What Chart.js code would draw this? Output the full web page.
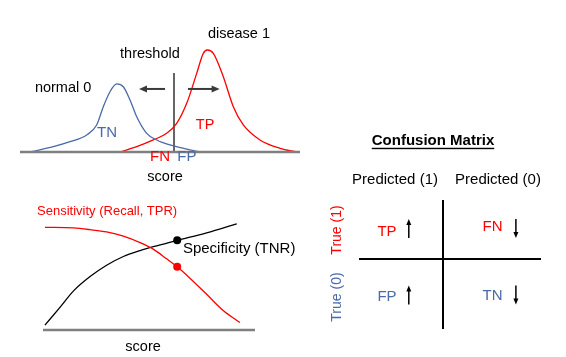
<!DOCTYPE html>
<html><head><meta charset="utf-8">
<script src="https://cdn.jsdelivr.net/npm/chart.js@4"></script>
<style>
html,body{margin:0;padding:0;background:#fff;width:566px;height:357px;overflow:hidden}
.box{position:absolute}
</style></head><body>
<div class="box" style="left:0;top:0;width:310px;height:190px"><canvas id="cA"></canvas></div>
<div class="box" style="left:0;top:190px;width:310px;height:167px"><canvas id="cB"></canvas></div>
<div class="box" style="left:310px;top:120px;width:256px;height:237px"><canvas id="cC"></canvas></div>
<script>
// ---------- Panel A: score distributions ----------
const normalScore   = [0.357, 1.19, 1.786, 2.382, 2.739, 2.975, 3.214, 3.454, 3.689, 3.929, 4.168, 4.525, 4.882, 5.357, 6.429];
const normalDensity = [0, 0.052, 0.101, 0.167, 0.265, 0.444, 0.591, 0.667, 0.640, 0.510, 0.346, 0.183, 0.118, 0.069, 0];
const diseaseScore   = [3.571, 4.168, 4.761, 5.239, 5.596, 5.954, 6.311, 6.546, 6.689, 6.904, 7.261, 7.618, 7.975, 8.571, 9.286, 9.882];
const diseaseDensity = [0, 0.052, 0.118, 0.183, 0.281, 0.477, 0.771, 0.967, 1.0, 0.967, 0.738, 0.444, 0.265, 0.118, 0.036, 0];
const scoreRange = [0, 10];
const thresholdScore = 5.5;
const thresholdHeight = 0.775;

// ---------- Panel B: rates vs score ----------
const sensScore    = [0.009, 0.143, 0.222, 0.300, 0.379, 0.458, 0.520, 0.583, 0.633, 0.693, 0.772, 0.850, 0.929];
const sensitivity  = [0.961, 0.955, 0.939, 0.918, 0.879, 0.818, 0.757, 0.666, 0.591, 0.485, 0.334, 0.182, 0.070];
const specScore    = [0.009, 0.080, 0.143, 0.222, 0.300, 0.379, 0.458, 0.536, 0.633, 0.772, 0.914];
const specificity  = [0.045, 0.212, 0.364, 0.500, 0.606, 0.688, 0.743, 0.788, 0.839, 0.909, 0.994];
const markScore = 0.633;
const markSens = 0.591;
const markSpec = 0.839;

// ---------- Panel C: confusion matrix ----------
const predictedLabels = ['Predicted (1)', 'Predicted (0)'];
const trueLabels = ['True (1)', 'True (0)'];
const cellLabels = [['TP', 'FN'], ['FP', 'TN']];
const cellTrend = [['up', 'down'], ['up', 'down']];

const RED = '#ff0000', BLUE = '#4a6aa8', FONT = '"Liberation Sans", Arial, sans-serif';

function pts(xs, ys) { return xs.map((x, i) => ({x, y: ys[i]})); }

function arrow(ctx, x1, y1, x2, y2, color, lw, hl, hw) {
  const a = Math.atan2(y2 - y1, x2 - x1);
  ctx.save();
  ctx.strokeStyle = color; ctx.fillStyle = color; ctx.lineWidth = lw;
  ctx.beginPath(); ctx.moveTo(x1, y1);
  ctx.lineTo(x2 - Math.cos(a) * hl * 0.8, y2 - Math.sin(a) * hl * 0.8); ctx.stroke();
  ctx.beginPath(); ctx.moveTo(x2, y2);
  ctx.lineTo(x2 - Math.cos(a) * hl - Math.sin(a) * hw / 2, y2 - Math.sin(a) * hl + Math.cos(a) * hw / 2);
  ctx.lineTo(x2 - Math.cos(a) * hl + Math.sin(a) * hw / 2, y2 - Math.sin(a) * hl - Math.cos(a) * hw / 2);
  ctx.closePath(); ctx.fill();
  ctx.restore();
}

// annotation plugin: texts and arrows placed in data units
const annot = {
  id: 'annot',
  afterDatasetsDraw(chart, args, opts) {
    const ctx = chart.ctx, xs = chart.scales.x, ys = chart.scales.y;
    (opts.arrows || []).forEach(a => {
      arrow(ctx, xs.getPixelForValue(a.from[0]), ys.getPixelForValue(a.from[1]),
            xs.getPixelForValue(a.to[0]), ys.getPixelForValue(a.to[1]), a.color, a.lw, a.hl, a.hw);
    });
    (opts.texts || []).forEach(t => {
      ctx.save();
      ctx.font = (t.bold ? 'bold ' : '') + t.size + 'px ' + FONT;
      ctx.fillStyle = t.color;
      ctx.textAlign = t.align || 'center';
      ctx.textBaseline = 'middle';
      const px = xs.getPixelForValue(t.x), py = ys.getPixelForValue(t.y);
      ctx.translate(px, py);
      if (t.rotate) ctx.rotate(t.rotate);
      ctx.fillText(t.text, 0, 0);
      if (t.underline) {
        const w = ctx.measureText(t.text).width;
        ctx.fillRect(-w / 2, t.size * 0.45, w, 1.4);
      }
      ctx.restore();
    });
  }
};

function hidden(min, max) {
  return { type: 'linear', min, max, display: false };
}
const baseOpts = (padding, xr, yr, plug) => ({
  responsive: true, maintainAspectRatio: false, animation: false,
  layout: { padding },
  scales: { x: hidden(xr[0], xr[1]), y: hidden(yr[0], yr[1]) },
  plugins: { legend: { display: false }, tooltip: { enabled: false }, annot: plug },
  elements: { point: { radius: 0 } }
});

// Panel A
new Chart(document.getElementById('cA'), {
  type: 'scatter',
  plugins: [annot],
  data: { datasets: [
    { data: pts(scoreRange, [0, 0]), showLine: true, borderColor: '#7f7f7f', borderWidth: 2.5, clip: false },
    { data: pts(normalScore, normalDensity), showLine: true, borderColor: BLUE, borderWidth: 1.3, cubicInterpolationMode: 'monotone', clip: false },
    { data: pts(diseaseScore, diseaseDensity), showLine: true, borderColor: RED, borderWidth: 1.3, cubicInterpolationMode: 'monotone', clip: false },
    { data: pts([thresholdScore, thresholdScore], [0, thresholdHeight]), showLine: true, borderColor: '#555555', borderWidth: 1.8, clip: false }
  ]},
  options: baseOpts({left: 20, right: 10, top: 0, bottom: 38}, scoreRange, [0, 1.49], {
    arrows: [
      {from: [5.18, 0.618], to: [4.25, 0.618], color: '#3a3a3a', lw: 2, hl: 8, hw: 7},
      {from: [6.0, 0.618], to: [7.13, 0.618], color: '#3a3a3a', lw: 2, hl: 8, hw: 7}
    ],
    texts: [
      {text: 'disease 1', x: 7.82, y: 1.157, color: '#000', size: 14.5},
      {text: 'threshold', x: 4.64, y: 0.96, color: '#000', size: 14.5},
      {text: 'normal 0', x: 1.54, y: 0.627, color: '#000', size: 14.5},
      {text: 'TN', x: 3.11, y: 0.186, color: BLUE, size: 15},
      {text: 'TP', x: 6.61, y: 0.265, color: RED, size: 14.5},
      {text: 'FN', x: 5.0, y: -0.049, color: RED, size: 15},
      {text: 'FP', x: 5.96, y: -0.049, color: BLUE, size: 15},
      {text: 'score', x: 5.18, y: -0.245, color: '#000', size: 14.5}
    ]
  })
});

// Panel B
new Chart(document.getElementById('cB'), {
  type: 'scatter',
  plugins: [annot],
  data: { datasets: [
    { data: pts([0, 1], [0, 0]), showLine: true, borderColor: '#7f7f7f', borderWidth: 2.5, clip: false },
    { data: pts(sensScore, sensitivity), showLine: true, borderColor: RED, borderWidth: 1.3, cubicInterpolationMode: 'monotone', clip: false },
    { data: pts(specScore, specificity), showLine: true, borderColor: '#000', borderWidth: 1.3, cubicInterpolationMode: 'monotone', clip: false },
    { data: pts([markScore], [markSens]), pointRadius: 4, backgroundColor: RED, borderWidth: 0, clip: false },
    { data: pts([markScore], [markSpec]), pointRadius: 4, backgroundColor: '#000', borderWidth: 0, clip: false }
  ]},
  options: baseOpts({left: 43, right: 55, top: 0, bottom: 27}, [0, 1], [0, 1.273], {
    texts: [
      {text: 'Sensitivity (Recall, TPR)', x: -0.028, y: 1.109, color: RED, size: 13, align: 'left'},
      {text: 'Specificity (TNR)', x: 0.66, y: 0.755, color: '#000', size: 15, align: 'left'},
      {text: 'score', x: 0.472, y: -0.155, color: '#000', size: 14.5}
    ]
  })
});

// Panel C
const cellX = [0.378, 1.55];
const cellY = [1.415, 0.42];
const cellYRight = [1.488, 0.435];
const arrowX = [0.62, 1.81];
const arrowY = [1.469, 0.446];
const cTexts = [
  {text: 'Confusion Matrix', x: 0.889, y: 2.815, color: '#000', size: 15, bold: true, underline: true},
  {text: predictedLabels[0], x: 0.467, y: 2.215, color: '#000', size: 15},
  {text: predictedLabels[1], x: 1.611, y: 2.215, color: '#000', size: 15},
  {text: trueLabels[0], x: -0.178, y: 1.446, color: RED, size: 14, rotate: -Math.PI / 2},
  {text: trueLabels[1], x: -0.178, y: 0.415, color: BLUE, size: 14, rotate: -Math.PI / 2}
];
const cArrows = [];
cellLabels.forEach((row, r) => row.forEach((lab, c) => {
  cTexts.push({text: lab, x: cellX[c], y: c === 0 ? cellY[r] : cellYRight[r], color: r === 0 ? RED : BLUE, size: 15});
  const yc = arrowY[r];
  const up = cellTrend[r][c] === 'up';
  cArrows.push({from: [arrowX[c], up ? yc - 0.146 : yc + 0.146], to: [arrowX[c], up ? yc + 0.146 : yc - 0.146],
                color: '#000', lw: 1.5, hl: 6, hw: 5});
}));
new Chart(document.getElementById('cC'), {
  type: 'scatter',
  plugins: [annot],
  data: { datasets: [
    { data: pts([0.067, 2.089], [1, 1]), showLine: true, borderColor: '#000', borderWidth: 2, clip: false },
    { data: pts([1, 1], [-0.077, 1.908]), showLine: true, borderColor: '#000', borderWidth: 2, clip: false }
  ]},
  options: baseOpts({left: 43, right: 33, top: 74, bottom: 33}, [0, 2], [0, 2], {
    arrows: cArrows, texts: cTexts
  })
});
</script>
</body></html>
